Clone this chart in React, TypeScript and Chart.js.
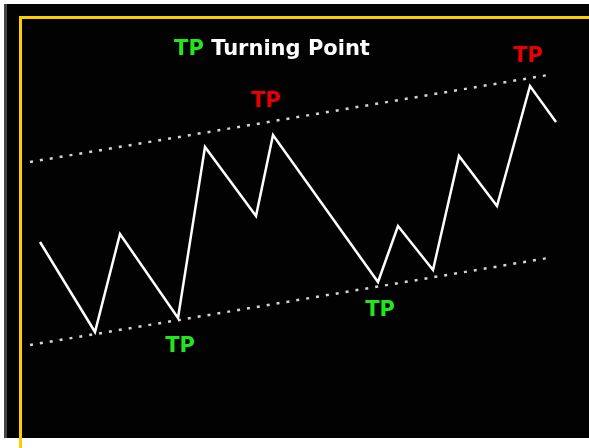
import React, { useEffect, useRef } from "react";
import { Chart, registerables } from "chart.js";

Chart.register(...registerables);

// Price path (x = time units, y = price units)
const priceX = [40, 95, 120, 178, 205, 256, 273, 378, 398, 433, 459, 497, 530, 556];
const priceY = [206, 116, 214, 130, 301, 232, 313, 166, 222, 178, 292, 242, 362, 326];

// Channel trend lines
const upperX = [30, 548];
const upperY = [286, 373];
const lowerX = [30, 548];
const lowerY = [103, 190];

// Turning-point labels
const tpTopX = [266, 528];
const tpTopY = [346, 391];
const tpBottomX = [180, 380];
const tpBottomY = [101, 137];

const titleParts = ["TP", " Turning Point"];

const X_MIN = 0, X_MAX = 589, Y_MIN = 0, Y_MAX = 448;

const GREEN = "#22e61c";
const RED = "#e60000";
const YELLOW = "#ffcc00";

export default function App() {
  const ref = useRef<HTMLCanvasElement | null>(null);
  useEffect(() => {
    document.body.style.margin = "0";
    const canvas = ref.current!;
    const bgPlugin = {
      id: "bg",
      beforeDraw(chart: any) {
        const c = chart.ctx;
        const w = chart.width, h = chart.height;
        c.save();
        c.fillStyle = "#ffffff";
        c.fillRect(0, 0, w, h);
        c.fillStyle = "#444444";
        c.fillRect(4, 4, 3, 434);
        c.fillStyle = "#020202";
        c.fillRect(7, 4, w - 7, 434);
        c.fillStyle = YELLOW;
        c.fillRect(19, 16, w - 19, 3);
        c.fillRect(19, 16, 3, h - 16);
        c.restore();
      },
      afterDatasetsDraw(chart: any) {
        const c = chart.ctx;
        const xs = chart.scales.x, ys = chart.scales.y;
        c.save();
        c.font = "bold 21px 'DejaVu Sans'";
        c.textBaseline = "middle";
        c.textAlign = "center";
        c.fillStyle = RED;
        tpTopX.forEach((x, i) => c.fillText("TP", xs.getPixelForValue(x), ys.getPixelForValue(tpTopY[i])));
        c.fillStyle = GREEN;
        tpBottomX.forEach((x, i) => c.fillText("TP", xs.getPixelForValue(x), ys.getPixelForValue(tpBottomY[i])));
        // title
        c.textAlign = "left";
        const w0 = c.measureText(titleParts[0]).width;
        const w1 = c.measureText(titleParts[1]).width;
        const cx = 272;
        const start = cx - (w0 + w1) / 2;
        c.fillStyle = GREEN;
        c.fillText(titleParts[0], start, 50);
        c.fillStyle = "#ffffff";
        c.fillText(titleParts[1], start + w0, 50);
        c.restore();
      },
    };
    const chart = new Chart(canvas, {
      type: "line",
      data: {
        datasets: [
          {
            data: upperX.map((x, i) => ({ x, y: upperY[i] })),
            borderColor: "rgba(235,235,235,0.9)",
            borderWidth: 2.5,
            borderDash: [3, 7],
            pointRadius: 0,
          },
          {
            data: lowerX.map((x, i) => ({ x, y: lowerY[i] })),
            borderColor: "rgba(235,235,235,0.9)",
            borderWidth: 2.5,
            borderDash: [3, 7],
            pointRadius: 0,
          },
          {
            data: priceX.map((x, i) => ({ x, y: priceY[i] })),
            borderColor: "#ffffff",
            borderWidth: 2.5,
            pointRadius: 0,
            tension: 0,
          },
        ],
      },
      options: {
        responsive: false,
        animation: false,
        layout: { padding: 0 },
        plugins: { legend: { display: false }, tooltip: { enabled: false }, title: { display: false } },
        scales: {
          x: { type: "linear", min: X_MIN, max: X_MAX, display: false },
          y: { type: "linear", min: Y_MIN, max: Y_MAX, display: false },
        },
      },
      plugins: [bgPlugin],
    });
    return () => chart.destroy();
  }, []);
  return (
    <div style={{ position: "fixed", left: 0, top: 0, width: 589, height: 448 }}>
      <canvas ref={ref} width={589} height={448} />
    </div>
  );
}
